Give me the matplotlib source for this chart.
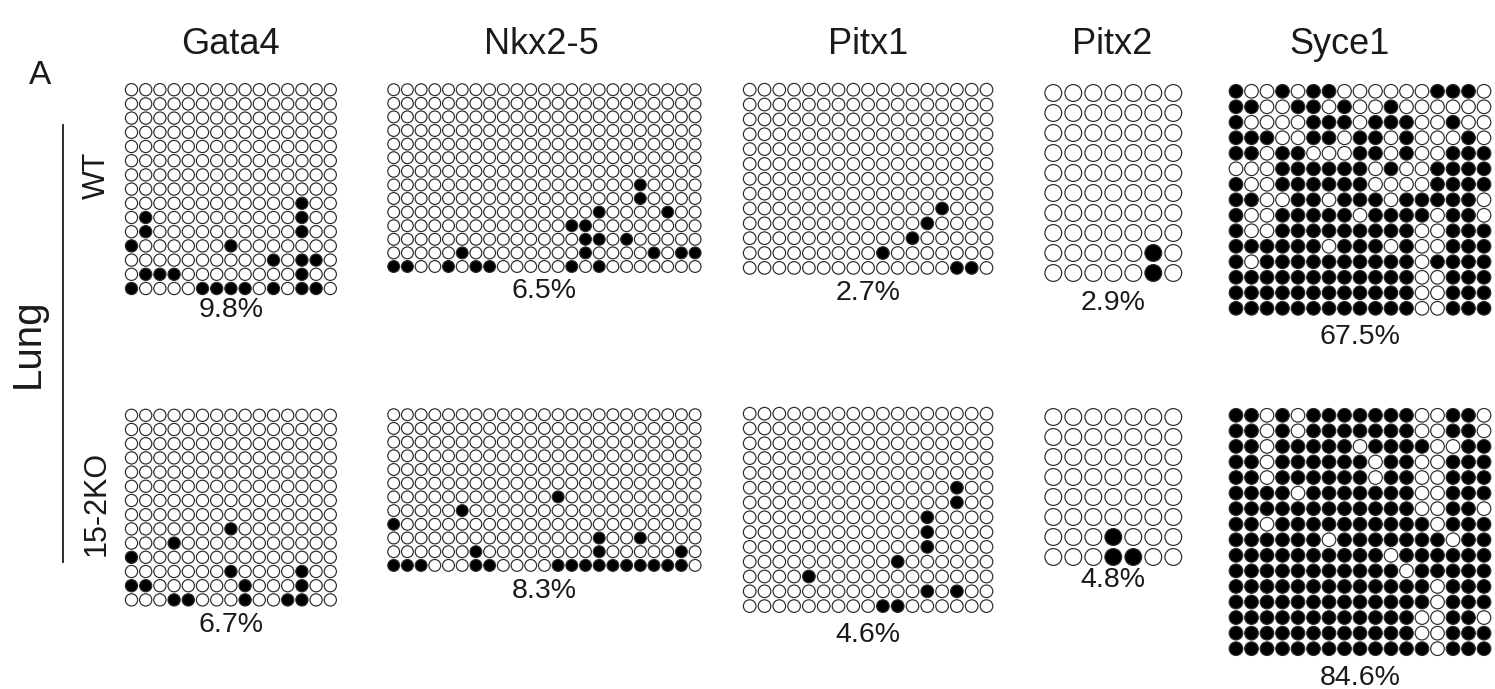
import matplotlib
matplotlib.use("Agg")
import matplotlib.pyplot as plt
from matplotlib.lines import Line2D

plt.rcParams['font.family'] = ['Liberation Sans', 'DejaVu Sans']

W, H = 1495, 689

# ---------------- data (1 = methylated / filled, 0 = unmethylated / open) ----------------
genes = ["Gata4", "Nkx2-5", "Pitx1", "Pitx2", "Syce1"]
wt_pct = ["9.8%", "6.5%", "2.7%", "2.9%", "67.5%"]
ko_pct = ["6.7%", "8.3%", "4.6%", "4.8%", "84.6%"]
row_labels = ["WT", "15-2KO"]
tissue = "Lung"
panel_tag = "A"

gata4_wt = ["00000 00000 00000"] * 8 + [
    "00000 00000 00100",
    "01000 00000 00100",
    "01000 00000 00100",
    "10000 00100 00000",
    "00000 00000 10110",
    "01110 00000 00100",
    "10000 11110 10110",
]
gata4_ko = ["00000 00000 00000"] * 8 + [
    "00000 00100 00000",
    "00010 00000 00000",
    "10000 00000 00000",
    "00000 00100 00100",
    "11000 00010 00100",
    "00011 00010 01100",
]
nkx25_wt = ["00000 00000 00000 00000 000"] * 7 + [
    "00000 00000 00000 00010 000",
    "00000 00000 00000 00010 000",
    "00000 00000 00000 10000 100",
    "00000 00000 00011 00000 000",
    "00000 00000 00001 10100 000",
    "00000 10000 00001 00001 011",
    "11001 01100 00010 10000 000",
]
nkx25_ko = ["00000 00000 00000 00000 000"] * 6 + [
    "00000 00000 00100 00000 000",
    "00000 10000 00000 00000 000",
    "10000 00000 00000 00000 000",
    "00000 00000 00000 10010 000",
    "00000 01000 00000 10000 010",
    "11100 01100 00111 11111 110",
]
pitx1_wt = ["00000 00000 00000 00"] * 8 + [
    "00000 00000 00010 00",
    "00000 00000 00100 00",
    "00000 00000 01000 00",
    "00000 00001 00000 00",
    "00000 00000 00001 10",
]
pitx1_ko = ["00000 00000 00000 00"] * 5 + [
    "00000 00000 00001 00",
    "00000 00000 00001 00",
    "00000 00000 00100 00",
    "00000 00000 00100 00",
    "00000 00000 00100 00",
    "00000 00000 10000 00",
    "00001 00000 00000 00",
    "00000 00000 00101 00",
    "00000 00001 10000 00",
]
pitx2_wt = ["0000000"] * 8 + ["0000010", "0000010"]
pitx2_ko = ["0000000"] * 6 + ["0001000", "0001100"]
syce1_wt = [
    "10010 11000 00011 10",
    "11001 10100 10000 00",
    "10000 11101 11001 00",
    "11100 11011 01000 10",
    "11011 00011 01001 11",
    "00011 11110 10011 11",
    "10011 11110 00011 11",
    "11001 10111 01111 10",
    "10011 11101 11101 10",
    "10011 11111 11001 11",
    "11111 10111 01001 11",
    "10111 11111 11011 11",
    "11111 11111 11001 11",
    "11111 11111 11001 11",
    "11111 11111 11001 11",
]
syce1_ko = [
    "11010 11111 11001 10",
    "11010 11111 11001 10",
    "11011 11101 11100 11",
    "11011 11110 11001 11",
    "11011 11110 11001 11",
    "11110 11111 11001 11",
    "11111 11111 11001 10",
    "11011 11111 11101 11",
    "11111 10111 11110 11",
    "11111 11111 01111 11",
    "11111 11111 10111 11",
    "11111 11111 11101 11",
    "11111 11111 11101 11",
    "11111 11111 11001 10",
    "11111 11111 11001 11",
    "11111 11111 11101 11",
]

# ---------------- layout (pixels) ----------------
# x0, dx, y0, dy, diameter, pct-label baseline y
layout_wt = [
    (131.5, 14.2, 89.7, 14.2, 12.2, 317),
    (393.7, 13.7, 89.7, 13.6, 11.8, 298),
    (749.7, 14.8, 89.7, 14.85, 12.6, 300),
    (1053.3, 20.0, 93.0, 20.0, 16.8, 310),
    (1236.0, 15.5, 91.3, 15.5, 13.6, 344),
]
layout_ko = [
    (131.5, 14.2, 415.3, 14.2, 12.2, 632),
    (393.7, 13.7, 414.7, 13.7, 11.8, 598),
    (749.7, 14.8, 413.7, 14.8, 12.6, 642),
    (1053.3, 20.0, 417.0, 20.0, 16.8, 587),
    (1236.0, 15.5, 415.3, 15.56, 13.6, 685),
]
title_x = [230, 541, 868, 1112, 1340]

fig = plt.figure(figsize=(W / 100, H / 100), dpi=100)
fig.patch.set_facecolor("white")


def draw_panel(data, lay, pct):
    x0, dx, y0, dy, d, ly = lay
    rows = [r.replace(" ", "") for r in data]
    nrows = len(rows)
    ncols = max(len(r) for r in rows)
    left = (x0 - dx / 2) / W
    top = (y0 - dy / 2) / H
    ax = fig.add_axes([left, 1 - top - nrows * dy / H, ncols * dx / W, nrows * dy / H])
    cs, rs, fc = [], [], []
    for i, r in enumerate(rows):
        for j, ch in enumerate(r):
            cs.append(j)
            rs.append(i)
            fc.append("black" if ch == "1" else "white")
    s = (d * 72 / 100) ** 2
    ax.scatter(cs, rs, s=s, c=fc, edgecolors="#2a2a2a", linewidths=0.85, clip_on=False)
    ax.set_xlim(-0.5, ncols - 0.5)
    ax.set_ylim(nrows - 0.5, -0.5)
    ax.axis("off")
    cx = x0 + (ncols - 1) * dx / 2
    fig.text(cx / W, 1 - ly / H, pct, ha="center", va="baseline", fontsize=20.5, color="#1a1a1a")


wt_sets = [gata4_wt, nkx25_wt, pitx1_wt, pitx2_wt, syce1_wt]
ko_sets = [gata4_ko, nkx25_ko, pitx1_ko, pitx2_ko, syce1_ko]
for k in range(5):
    draw_panel(wt_sets[k], layout_wt[k], wt_pct[k])
    draw_panel(ko_sets[k], layout_ko[k], ko_pct[k])
    fig.text(title_x[k] / W, 1 - 45 / H, genes[k], ha="center", va="center",
             fontsize=26, color="#1a1a1a")

fig.text(40 / W, 1 - 75 / H, panel_tag, ha="center", va="center", fontsize=24, color="#1a1a1a")
fig.text(28 / W, 1 - 343 / H, tissue, ha="center", va="center", rotation=90,
         fontsize=29, color="#1a1a1a")
fig.text(97 / W, 1 - 175 / H, row_labels[0], ha="center", va="center", rotation=90,
         fontsize=22, color="#1a1a1a")
fig.text(97 / W, 1 - 503 / H, row_labels[1], ha="center", va="center", rotation=90,
         fontsize=22, color="#1a1a1a")
fig.add_artist(Line2D([63 / W, 63 / W], [1 - 125 / H, 1 - 562 / H], color="#1a1a1a", lw=1.3))

fig.savefig("out.png", dpi=100, facecolor="white")
